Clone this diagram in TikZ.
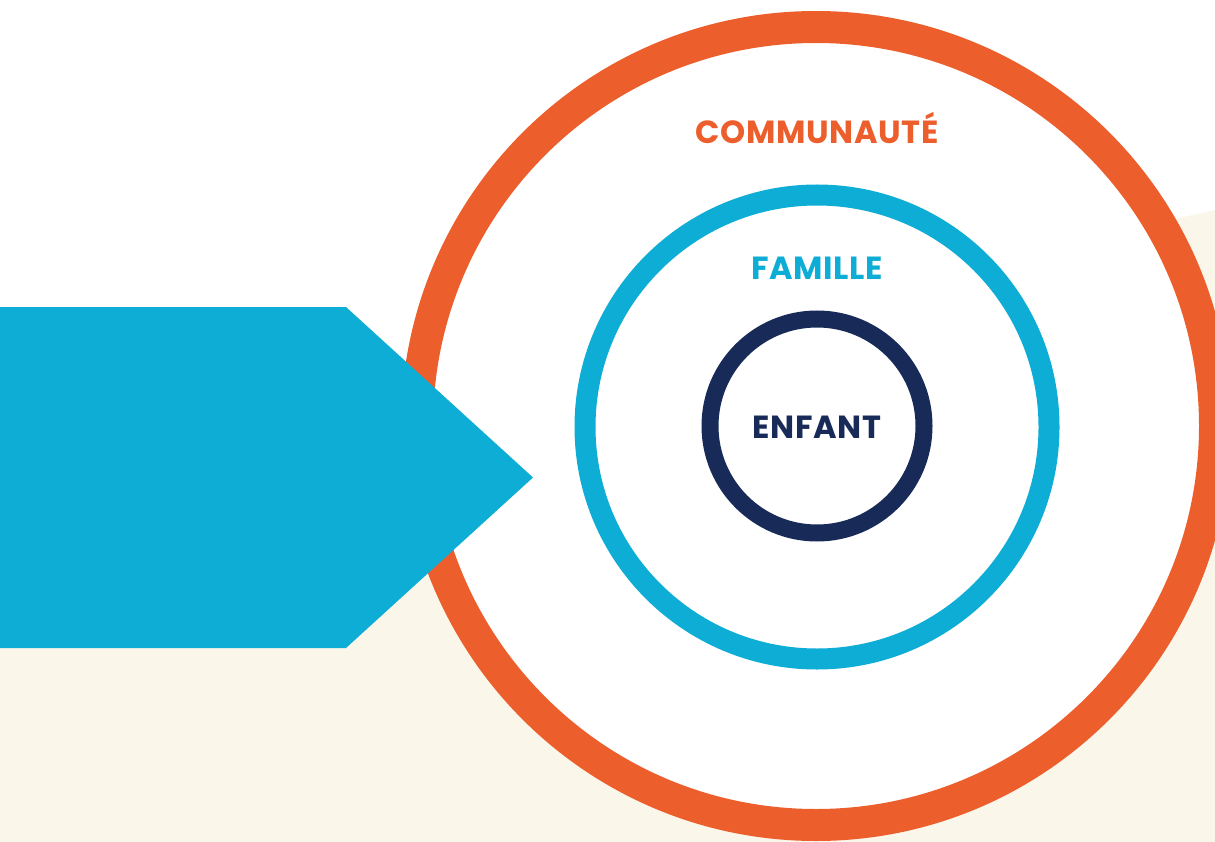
\documentclass[tikz,border=0pt]{standalone}
\usepackage{fontspec}
\setmainfont{Poppins}
\usepackage{tikz}

\definecolor{orangec}{HTML}{EC5E2C}
\definecolor{cyanc}{HTML}{0DADD6}
\definecolor{navyc}{HTML}{172A58}
\definecolor{creamc}{HTML}{FAF7EA}

\begin{document}
\begin{tikzpicture}
  [x=1pt, y=-1pt,
  ring/.style={circle, draw, fill=white, inner sep=0pt},
  label text/.style={font=\fontsize{32}{32}\selectfont\bfseries\addfontfeatures{LetterSpace=2}}]
  \useasboundingbox (0,0) rectangle (1215,842);
  % background
  \fill[creamc] (0,480) -- (1215,210) -- (1215,842) -- (0,842) -- cycle;
  % circles
  \node[ring, draw=orangec, line width=32pt, minimum size=798pt] (communaute) at (816,426) {};
  \node[ring, draw=cyanc, line width=21pt, minimum size=464pt] (famille) at (817,427) {};
  \node[ring, draw=navyc, line width=17pt, minimum size=214pt] (enfant) at (817,426) {};
  % arrow
  \fill[cyanc] (0,307) -- (346,307) -- (533,477.5) -- (346,648) -- (0,648) -- cycle;
  % labels
  \node[label text, text=orangec] (communaute label) at (817,128) {COMMUNAUTÉ};
  \node[label text, text=cyanc] (famille label) at (817,268) {FAMILLE};
  \node[label text, text=navyc] (enfant label) at (817,427) {ENFANT};
\end{tikzpicture}
\end{document}
